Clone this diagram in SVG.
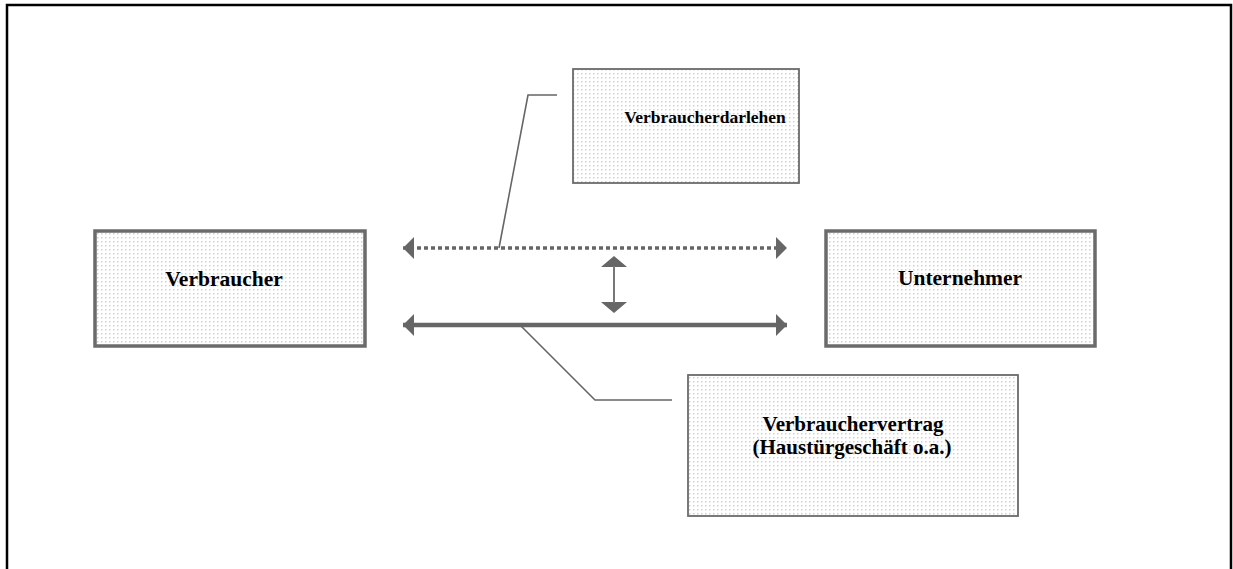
<svg xmlns="http://www.w3.org/2000/svg" width="1233" height="569" viewBox="0 0 1233 569">
  <defs>
    <pattern id="dots" width="4" height="4" patternUnits="userSpaceOnUse">
      <rect width="4" height="4" fill="#ffffff"/>
      <rect x="1" y="1" width="1.5" height="1.5" fill="#d2d2d2"/>
    </pattern>
    <marker id="head" viewBox="0 0 11 22" refX="11" refY="11" markerWidth="11" markerHeight="22" markerUnits="userSpaceOnUse" orient="auto-start-reverse">
      <path d="M0,0 L11,11 L0,22 Z" fill="#666666"/>
    </marker>
  </defs>
  <style>
    .box { fill: url(#dots); stroke: #6b6b6b; }
    .main { stroke-width: 3.5; }
    .side { stroke-width: 1.8; }
    .label { font-family: "Liberation Serif", "Times New Roman", serif; font-weight: bold; font-size: 21.5px; fill: #000; text-anchor: middle; }
    .small { font-size: 17.5px; }
    .mid { font-size: 21px; }
    .lead { fill: none; stroke: #666666; stroke-width: 1.6; }
  </style>

  <rect x="0" y="0" width="1233" height="569" fill="#ffffff"/>
  <!-- outer frame, open at the bottom -->
  <path d="M7,575 L7,5 L1231,5 L1231,575" fill="none" stroke="#000" stroke-width="2.5"/>

  <g id="connectors">
    <!-- dotted relation: loan -->
    <line x1="403" y1="248" x2="787" y2="248" stroke="#666666" stroke-width="3.5" stroke-dasharray="4,3" marker-start="url(#head)" marker-end="url(#head)"/>
    <!-- solid relation: consumer contract -->
    <line x1="403" y1="325" x2="787" y2="325" stroke="#666666" stroke-width="4.5" marker-start="url(#head)" marker-end="url(#head)"/>
    <!-- linkage between both contracts -->
    <path d="M614,256 L627,267 L601,267 Z M614,313 L627,302 L601,302 Z" fill="#666666"/>
    <line x1="614" y1="266" x2="614" y2="303" stroke="#777777" stroke-width="2"/>
    <!-- leader lines -->
    <polyline class="lead" points="499,248 528,95 557,95"/>
    <polyline class="lead" points="521,326 595,400 672,400"/>
  </g>

  <g id="verbraucher">
    <rect class="box main" x="95" y="231" width="270" height="115"/>
    <text class="label" x="224" y="286">Verbraucher</text>
  </g>

  <g id="unternehmer">
    <rect class="box main" x="826" y="231" width="269" height="115"/>
    <text class="label" x="960" y="285">Unternehmer</text>
  </g>

  <g id="verbraucherdarlehen">
    <rect class="box side" x="573" y="69" width="226" height="114"/>
    <text class="label small" x="705" y="123">Verbraucherdarlehen</text>
  </g>

  <g id="verbrauchervertrag">
    <rect class="box side" x="688" y="375" width="330" height="141"/>
    <text class="label mid" x="853" y="431">Verbrauchervertrag</text>
    <text class="label mid" x="852" y="454">(Haustürgeschäft o.a.)</text>
  </g>
</svg>
